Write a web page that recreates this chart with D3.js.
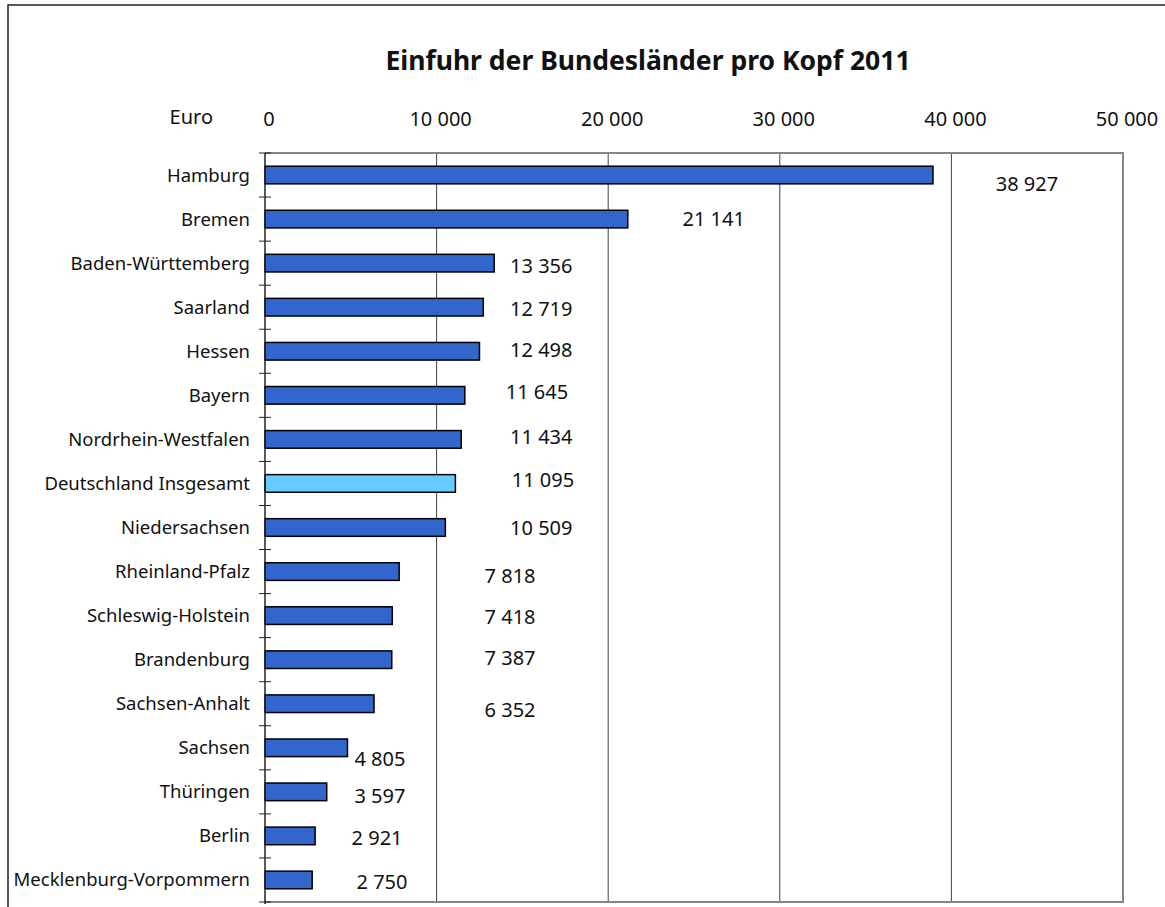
<!DOCTYPE html>
<html>
<head>
<meta charset="utf-8">
<script src="https://cdn.jsdelivr.net/npm/d3@7"></script>
<style>
  body { margin: 0; background: #fff; }
  text { font-family: "Noto Sans", sans-serif; fill: #111; }
</style>
</head>
<body>
<svg id="chart" width="1165" height="907"></svg>
<script>
  // data
  const laender = ["Hamburg", "Bremen", "Baden-Württemberg", "Saarland", "Hessen", "Bayern",
    "Nordrhein-Westfalen", "Deutschland Insgesamt", "Niedersachsen", "Rheinland-Pfalz",
    "Schleswig-Holstein", "Brandenburg", "Sachsen-Anhalt", "Sachsen", "Thüringen", "Berlin",
    "Mecklenburg-Vorpommern"];
  const einfuhr = [38927, 21141, 13356, 12719, 12498, 11645, 11434, 11095, 10509, 7818,
    7418, 7387, 6352, 4805, 3597, 2921, 2750];
  const ticks = [0, 10000, 20000, 30000, 40000, 50000];
  const highlight = "Deutschland Insgesamt";

  // where the value labels sit (x in euro units, y shift in px), as in the original
  const labelAt = [44400, 26150, 16100, 16100, 16100, 15850, 16100, 16200, 16100, 14280,
    14280, 14280, 14280, 6700, 6700, 6530, 6820];
  const labelDy = [9, 0, 3, 2, -1, -3, -2, -3, 0, 4, 1, -2, 6, 11, 4, 2, 2];

  const svg = d3.select("#chart");
  const m = {left: 265, top: 153, right: 1123, bottom: 902};

  const x = d3.scaleLinear().domain([0, 50000]).range([m.left, m.right]);
  const y = d3.scaleBand().domain(laender).range([m.top, m.bottom])
    .paddingInner(0.6).paddingOuter(0.3);
  const fmt = v => d3.format(",")(v).replace(/,/g, " ");

  // outer frame
  svg.append("path").attr("d", "M8,907V5H1165")
    .attr("fill", "none").attr("stroke", "#222").attr("stroke-width", 1.5);

  svg.append("text").attr("x", 648).attr("y", 70).attr("text-anchor", "middle")
    .style("font-size", "26.5px").style("font-weight", "bold").text("Einfuhr der Bundesländer pro Kopf 2011");

  svg.append("text").attr("x", 213).attr("y", 124).attr("text-anchor", "end")
    .style("font-size", "20px").text("Euro");

  // gridlines
  svg.append("g").selectAll("line").data(ticks.slice(1, -1)).join("line")
    .attr("x1", d => x(d)).attr("x2", d => x(d)).attr("y1", m.top).attr("y2", m.bottom)
    .attr("stroke", "#444").attr("stroke-width", 1);

  // plot border (top, right, bottom)
  svg.append("path").attr("d", `M${m.left},${m.top}H${m.right}V${m.bottom}H${m.left}`)
    .attr("fill", "none").attr("stroke", "#858585").attr("stroke-width", 2);

  // top axis labels
  svg.append("g").selectAll("text").data(ticks).join("text")
    .attr("x", d => x(d) + 4).attr("y", 126).attr("text-anchor", "middle")
    .style("font-size", "20px").text(fmt);

  // bars
  svg.append("g").selectAll("rect").data(laender).join("rect")
    .attr("x", x(0)).attr("y", d => y(d))
    .attr("width", (d, i) => x(einfuhr[i]) - x(0)).attr("height", y.bandwidth())
    .attr("fill", d => d === highlight ? "#66ccff" : "#3366cc")
    .attr("stroke", "#000").attr("stroke-width", 1.5);

  // left axis with crossing ticks at band edges
  const step = y.step();
  const edges = laender.map(d => y(d) - step * 0.3).concat([m.bottom]);
  svg.append("line").attr("x1", m.left).attr("x2", m.left).attr("y1", m.top).attr("y2", m.bottom + 2)
    .attr("stroke", "#222").attr("stroke-width", 1.5);
  svg.append("g").selectAll("line").data(edges).join("line")
    .attr("x1", m.left - 6).attr("x2", m.left + 6).attr("y1", d => d).attr("y2", d => d)
    .attr("stroke", "#222").attr("stroke-width", 1);

  // category labels
  svg.append("g").selectAll("text").data(laender).join("text")
    .attr("x", m.left - 15).attr("y", d => y(d) + y.bandwidth() / 2)
    .attr("dy", "0.35em").attr("text-anchor", "end")
    .style("font-size", "18.5px").text(d => d);

  // value labels
  svg.append("g").selectAll("text").data(einfuhr).join("text")
    .attr("x", (d, i) => x(labelAt[i]))
    .attr("y", (d, i) => y(laender[i]) + y.bandwidth() / 2 + labelDy[i])
    .attr("dy", "0.35em").attr("text-anchor", "middle")
    .style("font-size", "20px").text(fmt);
</script>
</body>
</html>
